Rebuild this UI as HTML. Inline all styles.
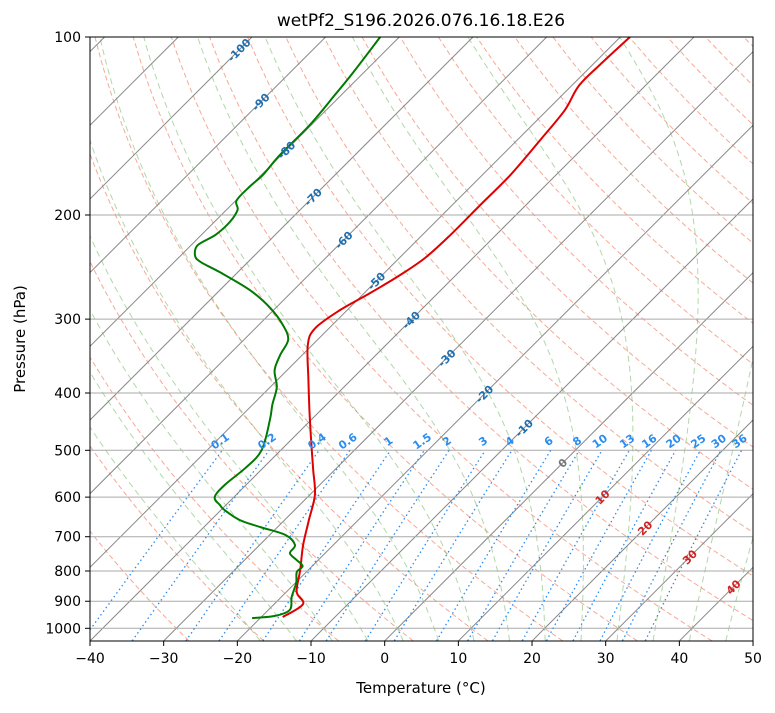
<!DOCTYPE html>
<html><head><meta charset="utf-8">
<style>
body{margin:0;background:#fff;font-family:"Liberation Sans","DejaVu Sans",sans-serif;}
svg text{font-family:"DejaVu Sans","Liberation Sans",sans-serif;}
</style></head>
<body>
<svg id="c" width="775" height="708" xmlns="http://www.w3.org/2000/svg">
<rect width="775" height="708" fill="#fff"/>
<text x="421" y="26" font-size="17" text-anchor="middle">wetPf2_S196.2026.076.16.18.E26</text>
<defs><clipPath id="pc"><rect x="90" y="37" width="663" height="604"/></clipPath></defs>
<g id="bg" clip-path="url(#pc)"></g>
<g id="series" clip-path="url(#pc)"></g>
<g id="labels"></g>
<rect x="90" y="37" width="663" height="604" fill="none" stroke="#000" stroke-width="1"/>
<g id="axes"></g>
<text x="421" y="693" font-size="15" text-anchor="middle">Temperature (°C)</text>
<text transform="translate(25,339) rotate(-90)" font-size="15" text-anchor="middle">Pressure (hPa)</text>
</svg>
<script>
const tempP = [957,910,868,797,723,656,595,540,480,427,380,332,311,290,271,253,236,216,192,171,149,133,121,111.5,100];
const tempT = [-17.1,-16.1,-18.6,-21.1,-24.1,-26.7,-29.3,-32.9,-37.3,-41.6,-45.8,-50.6,-51.9,-51,-49.2,-47.6,-46.5,-46.2,-46.2,-46.2,-46.9,-47.6,-49,-49,-48.7];
const dewP = [961,953,931,885,838,803,785,766,746,723,695,674,656,631,619,600,572,536,500,444,419,391,366,345,325,307,287,268,250,240,234,225,216,205.5,196,189,179,171,158,141,125,114,100];
const dewT = [-21.1,-18.3,-17.1,-18.6,-19.9,-21.3,-21.3,-23,-24.8,-25.2,-27.9,-32.4,-36.1,-39.5,-40.8,-42.6,-42.9,-42.4,-42.6,-45.6,-47.3,-49.1,-51.7,-53,-54,-56.7,-60.8,-65.9,-72.4,-76.5,-78.1,-79.1,-78.1,-77.9,-78.5,-79.9,-80,-79.8,-80.2,-80.2,-80.9,-81.5,-82.6];
const xTicks = [-40,-30,-20,-10,0,10,20,30,40,50];
const pTicks = [100,200,300,400,500,600,700,800,900,1000];
const mixVals = [0.1,0.2,0.4,0.6,1,1.5,2,3,4,6,8,10,13,16,20,25,30,36];
const isoLabels = [-100,-90,-80,-70,-60,-50,-40,-30,-20,-10,0,10,20,30,40];

const NS="http://www.w3.org/2000/svg";
const X0=90,PX=7.367,YB=641;
function yP(p){return 37+256.8*Math.log(p/100);}
function xT(T,p){return X0+(T+40)*PX+(YB-yP(p));}
function mk(tag,attrs,parent){const e=document.createElementNS(NS,tag);for(const k in attrs)e.setAttribute(k,attrs[k]);parent.appendChild(e);return e;}
const bg=document.getElementById('bg'),ser=document.getElementById('series'),lab=document.getElementById('labels'),ax=document.getElementById('axes');
function line(pts,st,parent,name){let d='';pts.forEach((q,i)=>{d+=(i?'L':'M')+q[0].toFixed(1)+' '+q[1].toFixed(1);});const e=mk('path',Object.assign({d:d,fill:'none'},st),parent);return e;}
function smooth(pts,st,parent,name){let d='M'+pts[0][0].toFixed(1)+' '+pts[0][1].toFixed(1);
 for(let i=0;i<pts.length-1;i++){const p0=pts[Math.max(0,i-1)],p1=pts[i],p2=pts[i+1],p3=pts[Math.min(pts.length-1,i+2)];
 const c1=[p1[0]+(p2[0]-p0[0])/6,p1[1]+(p2[1]-p0[1])/6],c2=[p2[0]-(p3[0]-p1[0])/6,p2[1]-(p3[1]-p1[1])/6];
 d+=`C${c1[0].toFixed(1)} ${c1[1].toFixed(1)} ${c2[0].toFixed(1)} ${c2[1].toFixed(1)} ${p2[0].toFixed(1)} ${p2[1].toFixed(1)}`;}
 const e=mk('path',Object.assign({d:d,fill:'none'},st),parent);return e;}
const presLevels=[];for(let p=1050;p>=100;p-=10)presLevels.push(p);
for(let th=-30;th<=260;th+=10){const T0=th+273.15;line(presLevels.map(p=>[xT(T0*Math.pow(p/1000,0.2857)-273.15,p),yP(p)]),{stroke:'#f07050','stroke-opacity':0.6,'stroke-width':1,'stroke-dasharray':'5,3'},bg,'dry-adiabat');}
function es(T){return 6.112*Math.exp(17.67*T/(T+243.5));}
function moist(T0){
 function grad(T,p){const rs=0.622*es(T-273.15)/(p-es(T-273.15));return (287*T+2.5e6*rs)/(1005+2.5e6*2.5e6*rs*0.622/(287*T*T))/p;}
 const up=[],dn=[];let T=T0+273.15;
 for(let p=1000;p>=100;p-=5){up.push([xT(T-273.15,p),yP(p)]);T-=grad(T,p)*5;}
 T=T0+273.15;for(let p=1000;p<=1050;p+=5){dn.push([xT(T-273.15,p),yP(p)]);T+=grad(T,p)*5;}
 return dn.reverse().concat(up);}
for(let t=-20;t<=45;t+=5){line(moist(t),{stroke:'#70b860','stroke-opacity':0.55,'stroke-width':1,'stroke-dasharray':'6,4'},bg,'moist-adiabat');}
for(let t=-160;t<=50;t+=10){line([[xT(t,1050),yP(1050)],[xT(t,100),yP(100)]],{stroke:'#888','stroke-width':1},bg,'isotherm');}
pTicks.forEach(p=>{line([[90,yP(p)],[753,yP(p)]],{stroke:'#aaa','stroke-width':1},bg,'pressure-gridline');});
function tdFromW(w,p){const e=w/1000*p/(0.622+w/1000);const l=Math.log(e/6.112);return 243.5*l/(17.67-l);}
mixVals.forEach(w=>{const pts=[];for(let p=1050;p>=500;p-=10)pts.push([xT(tdFromW(w,p),p),yP(p)]);line(pts,{stroke:'#2a8cf0','stroke-width':1.3,'stroke-dasharray':'1.5,3'},bg,'mixing-ratio-line');
 const x=xT(tdFromW(w,500),500),y=yP(500)-6;
 if(x<760){const t=mk('text',{x:x,y:y,'font-size':11,'font-weight':'bold',fill:'#2a8cf0','text-anchor':'middle',transform:`rotate(-35 ${x} ${y})`},lab);t.textContent=w;
 
 }});
const labY=[50,102,150,197,240,281,320,358,394,428,463,497,528,557,587];
isoLabels.forEach((t,i)=>{const y=labY[i];const p=100*Math.exp((y-37)/256.8);const x=xT(t,p);const col=t<0?'#1f6fb0':(t==0?'#777':'#d62020');
 const e=mk('text',{x:x,y:y+4,'font-size':11,'font-weight':'bold',fill:col,'text-anchor':'middle',transform:`rotate(-45 ${x} ${y})`},lab);e.textContent=t;
 
 });
smooth(tempP.map((p,i)=>[xT(tempT[i],p),yP(p)]),{stroke:'#e00000','stroke-width':2,'stroke-linejoin':'round'},ser,'temperature-line');
smooth(dewP.map((p,i)=>[xT(dewT[i],p),yP(p)]),{stroke:'#007a00','stroke-width':2,'stroke-linejoin':'round'},ser,'dewpoint-line');
xTicks.forEach(t=>{const x=X0+(t+40)*PX;mk('line',{x1:x,x2:x,y1:641,y2:646,stroke:'#000'},ax);const e=mk('text',{x:x,y:663,'font-size':14,'text-anchor':'middle'},ax);e.textContent=t<0?'\u2212'+(-t):t;
 
 });
pTicks.forEach(p=>{const y=yP(p);mk('line',{x1:85,x2:90,y1:y,y2:y,stroke:'#000'},ax);const e=mk('text',{x:81,y:y+5,'font-size':14,'text-anchor':'end'},ax);e.textContent=p;
 
 });
</script>
</body></html>
